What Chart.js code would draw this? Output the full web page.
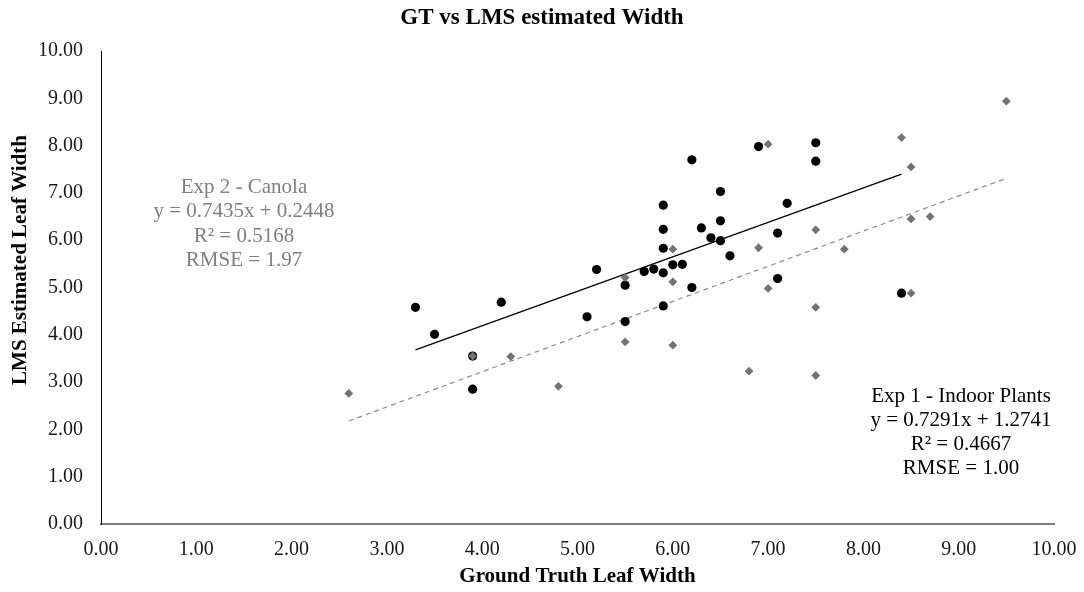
<!DOCTYPE html>
<html>
<head>
<meta charset="utf-8">
<script src="https://cdn.jsdelivr.net/npm/chart.js@4.4.1/dist/chart.umd.min.js"></script>
<style>
  html, body { margin: 0; padding: 0; background: #ffffff; }
  #wrap { width: 1084px; height: 592px; position: relative; }
</style>
</head>
<body>
<div id="wrap"><canvas id="c" width="1084" height="592"></canvas></div>
<script>
// Exp 1 - Indoor Plants (ground truth vs LMS estimate)
const indoorGT = [3.3, 3.5, 3.9, 3.9, 4.2, 5.1, 5.2, 5.5, 5.5, 5.7, 5.8, 5.9, 5.9, 5.9, 5.9, 5.9, 6.0, 6.1, 6.2, 6.2, 6.3, 6.4, 6.5, 6.5, 6.5, 6.6, 6.9, 7.1, 7.1, 7.2, 7.5, 7.5, 8.4];
const indoorLMS = [4.58, 4.01, 3.55, 2.85, 4.69, 4.38, 5.38, 5.05, 4.28, 5.34, 5.39, 5.31, 5.83, 6.23, 6.74, 4.61, 5.48, 5.49, 5.00, 7.70, 6.26, 6.05, 5.99, 6.41, 7.03, 5.67, 7.98, 6.15, 5.19, 6.78, 8.06, 7.67, 4.88];

// Exp 2 - Canola
const canolaGT = [2.6, 3.9, 4.3, 4.8, 5.5, 5.5, 6.0, 6.0, 6.0, 6.8, 6.9, 7.0, 7.0, 7.5, 7.5, 7.5, 7.8, 8.4, 8.5, 8.5, 8.5, 8.7, 9.5];
const canolaLMS = [2.76, 3.55, 3.54, 2.91, 5.21, 3.85, 5.81, 5.12, 3.78, 3.23, 5.84, 8.03, 4.98, 6.22, 4.58, 3.14, 5.81, 8.17, 7.55, 6.45, 4.88, 6.50, 8.94];

// Linear fits [slope, intercept]
const indoorFit = [0.7291, 1.2741];
const canolaFit = [0.7435, 0.2448];

// Fit statistics shown beside the plot
const indoorLabel = ['Exp 1 - Indoor Plants', 'y = 0.7291x + 1.2741', 'R\u00B2 = 0.4667', 'RMSE = 1.00'];
const canolaLabel = ['Exp 2 - Canola', 'y = 0.7435x + 0.2448', 'R\u00B2 = 0.5168', 'RMSE = 1.97'];

// Axis ticks
const axisMin = 0;
const axisMax = 10;
const axisStep = 1;

const chartTitle = 'GT vs LMS estimated Width';
const xTitle = 'Ground Truth Leaf Width';
const yTitle = 'LMS Estimated Leaf Width';

const SERIF = '"Liberation Serif", "Times New Roman", serif';

const toPoints = (xs, ys) => xs.map((x, i) => ({ x: x, y: ys[i] }));
const fitLine = (xs, fit) => {
  const lo = Math.min(...xs), hi = Math.max(...xs);
  return [{ x: lo, y: fit[0] * lo + fit[1] }, { x: hi, y: fit[0] * hi + fit[1] }];
};

// Titles and fit-statistic text blocks
const textPlugin = {
  id: 'textLayer',
  afterDraw(chart) {
    const ctx = chart.ctx;
    const area = chart.chartArea;
    ctx.save();
    ctx.textAlign = 'center';
    ctx.textBaseline = 'middle';

    ctx.fillStyle = '#000000';
    ctx.font = 'bold 23px ' + SERIF;
    ctx.fillText(chartTitle, 542, 18);

    ctx.font = 'bold 21px ' + SERIF;
    ctx.fillText(xTitle, (area.left + area.right) / 2, 577);

    ctx.save();
    ctx.translate(21, 260);
    ctx.rotate(-Math.PI / 2);
    ctx.fillText(yTitle, 0, 0);
    ctx.restore();

    ctx.font = '21px ' + SERIF;
    ctx.fillStyle = '#7f7f7f';
    canolaLabel.forEach((t, i) => ctx.fillText(t, 244, 187 + i * 24.5));
    ctx.fillStyle = '#000000';
    indoorLabel.forEach((t, i) => ctx.fillText(t, 961, 396 + i * 24.2));
    ctx.restore();
  }
};

new Chart(document.getElementById('c'), {
  type: 'scatter',
  data: {
    datasets: [
      {
        label: 'Exp 2 - Canola',
        data: toPoints(canolaGT, canolaLMS),
        pointStyle: 'rectRot',
        pointRadius: 4.4,
        pointHoverRadius: 4.4,
        backgroundColor: '#737373',
        borderColor: '#737373',
        borderWidth: 0,
        order: 1
      },
      {
        label: 'Exp 1 - Indoor Plants',
        data: toPoints(indoorGT, indoorLMS),
        pointStyle: 'circle',
        pointRadius: 4.6,
        pointHoverRadius: 4.6,
        backgroundColor: '#000000',
        borderColor: '#000000',
        borderWidth: 0,
        order: 2
      },
      {
        label: 'Canola fit',
        type: 'line',
        data: fitLine(canolaGT, canolaFit),
        borderColor: '#8c8c8c',
        borderWidth: 1.2,
        borderDash: [5, 4],
        pointRadius: 0,
        fill: false,
        order: 3
      },
      {
        label: 'Indoor fit',
        type: 'line',
        data: fitLine(indoorGT, indoorFit),
        borderColor: '#000000',
        borderWidth: 1.3,
        pointRadius: 0,
        fill: false,
        order: 3
      }
    ]
  },
  options: {
    responsive: false,
    animation: false,
    devicePixelRatio: 1,
    layout: { padding: { top: 51, right: 30, bottom: 0, left: 0 } },
    plugins: {
      legend: { display: false },
      title: { display: false },
      tooltip: { enabled: false }
    },
    scales: {
      x: {
        type: 'linear',
        min: axisMin,
        max: axisMax,
        afterFit(scale) {
          scale.height = 68;
          scale.paddingRight = 0;
          scale.paddingLeft = 0;
        },
        ticks: {
          stepSize: axisStep,
          padding: 14,
          color: '#1a1a1a',
          font: { family: SERIF, size: 20 },
          callback: v => Number(v).toFixed(2),
          maxRotation: 0
        },
        grid: { display: false, drawTicks: false },
        border: { display: true, color: '#7f7f7f', width: 2 }
      },
      y: {
        type: 'linear',
        min: axisMin,
        max: axisMax,
        afterFit(scale) {
          scale.width = 101;
          scale.paddingTop = 0;
          scale.paddingBottom = 0;
        },
        ticks: {
          stepSize: axisStep,
          padding: 18,
          color: '#1a1a1a',
          font: { family: SERIF, size: 20 },
          callback: v => Number(v).toFixed(2)
        },
        grid: { display: false, drawTicks: false },
        border: { display: true, color: '#000000', width: 1 }
      }
    }
  },
  plugins: [textPlugin]
});
</script>
</body>
</html>
